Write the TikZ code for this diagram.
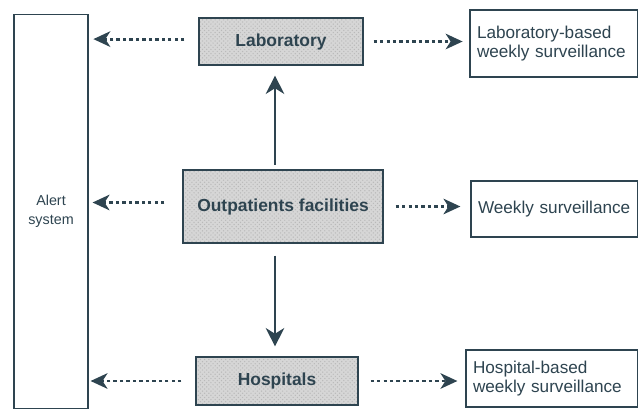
\documentclass[tikz,border=0pt]{standalone}
\usepackage{fontspec}
\setmainfont{Liberation Sans}
\usetikzlibrary{arrows.meta,patterns}
\definecolor{inkcol}{RGB}{46,68,80}
\definecolor{boxgray}{RGB}{214,214,214}
\tikzset{
  box/.style={draw=inkcol, line width=0.8pt, rectangle, inner sep=0pt, text=inkcol},
  grbox/.style={box, preaction={fill=boxgray}, pattern=crosshatch dots, pattern color=gray!55,
                font=\fontsize{12.4}{14}\selectfont\bfseries},
  repbox/.style={box, fill=white, align=left, inner xsep=5pt,
                 font=\fontsize{12.2}{14}\selectfont},
  dotarrow/.style={draw=inkcol, line width=2pt, dash pattern=on 2.4pt off 2.2pt,
                   -{Stealth[length=12pt,width=11pt,inset=3.5pt]}},
  solidarrow/.style={draw=inkcol, line width=1.9pt,
                     -{Stealth[length=13pt,width=13pt,inset=4pt]}}
}
\begin{document}
\begin{tikzpicture}[x=0.025cm,y=-0.025cm]
\useasboundingbox (0,0) rectangle (638,408);

% left column
\node[box, minimum width=74*0.025cm, minimum height=394*0.025cm, align=center,
      font=\fontsize{10.2}{13.5}\selectfont] (alert) at (51,211.5) {Alert\\system};

% middle column
\node[grbox, minimum width=164*0.025cm, minimum height=47*0.025cm] (lab) at (281,41.5) {Laboratory};
\node[grbox, minimum width=200*0.025cm, minimum height=73*0.025cm] (out) at (283,206.5) {Outpatients facilities};
\node[grbox, minimum width=162*0.025cm, minimum height=48*0.025cm] (hosp) at (277,381) {Hospitals};

% right column
\node[repbox, text width=154*0.025cm, minimum height=67*0.025cm] (labrep) at (554,43.5) {Laboratory-based\\weekly surveillance};
\node[repbox, text width=153*0.025cm, minimum height=56*0.025cm] (weekly) at (554.5,209) {Weekly surveillance};
\node[repbox, text width=158*0.025cm, minimum height=57*0.025cm] (hosprep) at (552,378.5) {Hospital-based\\weekly surveillance};

% arrows to the alert system
\draw[dotarrow, shorten <=0.35cm, shorten >=0.12cm] ([yshift=0.06cm]lab.west) -- ([yshift=0.06cm]lab.west -| alert.east);
\draw[dotarrow, shorten <=0.45cm, shorten >=0.1cm] ([yshift=0.1cm]out.west) -- ([yshift=0.1cm]out.west -| alert.east);
\draw[dotarrow, shorten <=0.35cm, shorten >=0.05cm] (hosp.west) -- (hosp.west -| alert.east);

% arrows to the reports
\draw[dotarrow, shorten <=0.25cm, shorten >=0.17cm] (lab.east) -- (lab.east -| labrep.west);
\draw[dotarrow, shorten <=0.3cm, shorten >=0.25cm] (out.east) -- (out.east -| weekly.west);
\draw[dotarrow, shorten <=0.3cm, shorten >=0.2cm] (hosp.east) -- (hosp.east -| hosprep.west);

% up and down
\draw[solidarrow, shorten <=0.12cm, shorten >=0.25cm] ([xshift=-0.2cm]out.north) -- ([xshift=-0.2cm]out.north |- lab.south);
\draw[solidarrow, shorten <=0.3cm, shorten >=0.25cm] ([xshift=-0.2cm]out.south) -- ([xshift=-0.2cm]out.south |- hosp.north);

\end{tikzpicture}
\end{document}
